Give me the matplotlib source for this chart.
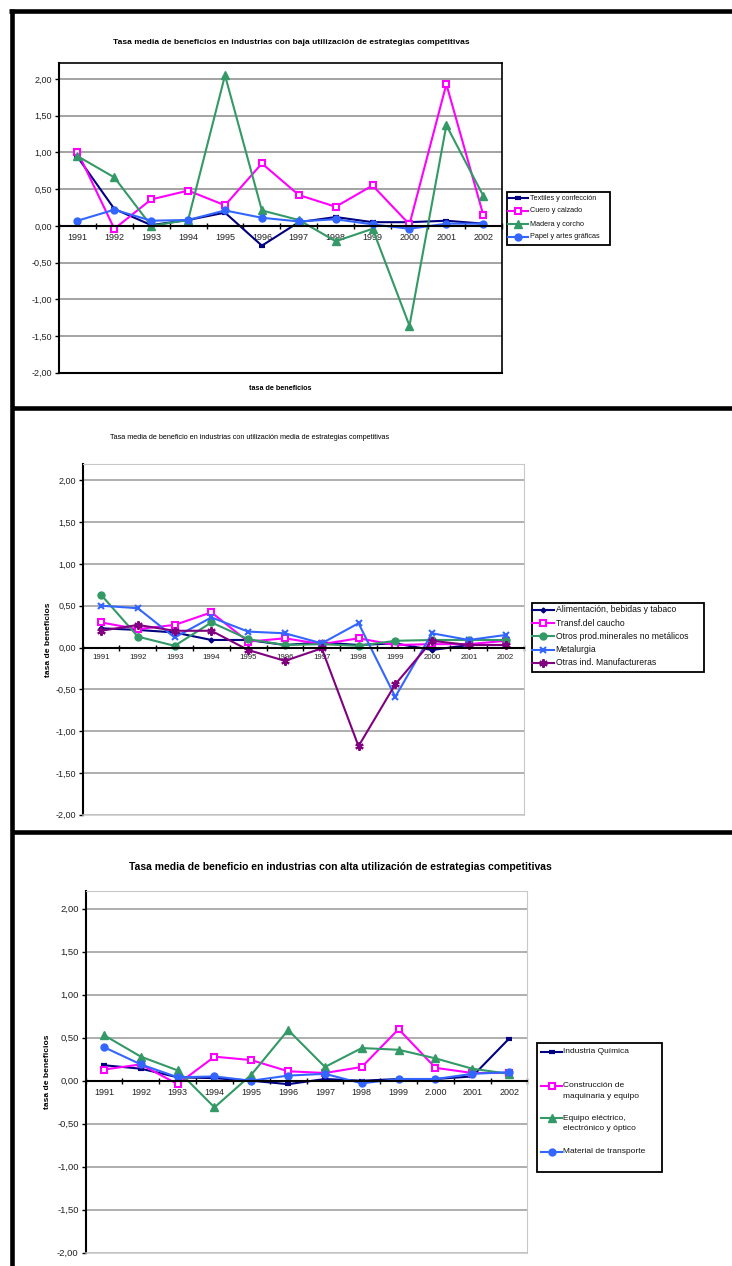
import numpy as np
import matplotlib
matplotlib.use("Agg")
import matplotlib.pyplot as plt
from matplotlib.patches import Rectangle
from matplotlib.ticker import FuncFormatter

plt.rcParams['font.family'] = ['Liberation Sans', 'DejaVu Sans']

W, H = 732, 1266

years = ['1991', '1992', '1993', '1994', '1995', '1996',
         '1997', '1998', '1999', '2000', '2001', '2002']
years_alta = ['1991', '1992', '1993', '1994', '1995', '1996',
              '1997', '1998', '1999', '2.000', '2001', '2002']

# baja utilización
textiles = [0.94, 0.23, 0.01, 0.08, 0.18, -0.27, 0.05, 0.12, 0.05, 0.05, 0.07, 0.03]
cuero = [1.01, -0.04, 0.36, 0.48, 0.28, 0.85, 0.42, 0.26, 0.55, 0.02, 1.93, 0.15]
madera = [0.95, 0.66, 0.00, 0.08, 2.05, 0.21, 0.08, -0.21, -0.04, -1.36, 1.37, 0.41]
papel = [0.07, 0.22, 0.07, 0.08, 0.21, 0.11, 0.06, 0.09, 0.02, -0.04, 0.03, 0.03]

# utilización media
alimentacion = [0.23, 0.21, 0.18, 0.09, 0.09, 0.03, 0.06, 0.03, 0.05, -0.03, 0.03, 0.03]
caucho = [0.30, 0.22, 0.27, 0.42, 0.07, 0.11, 0.04, 0.11, 0.03, 0.04, 0.04, 0.08]
minerales = [0.63, 0.13, 0.02, 0.30, 0.10, 0.03, 0.04, 0.02, 0.08, 0.09, 0.09, 0.09]
metalurgia = [0.50, 0.47, 0.12, 0.36, 0.19, 0.17, 0.05, 0.29, -0.59, 0.17, 0.09, 0.15]
otras = [0.20, 0.27, 0.20, 0.20, -0.03, -0.16, -0.01, -1.18, -0.44, 0.08, 0.03, 0.03]

# alta utilización
quimica = [0.18, 0.14, 0.04, 0.03, 0.00, -0.04, 0.02, 0.00, 0.02, 0.02, 0.05, 0.49]
maquinaria = [0.13, 0.19, -0.04, 0.28, 0.24, 0.11, 0.09, 0.16, 0.60, 0.15, 0.09, 0.09]
electrico = [0.53, 0.28, 0.12, -0.31, 0.07, 0.59, 0.16, 0.38, 0.36, 0.26, 0.14, 0.08]
transporte = [0.39, 0.19, 0.04, 0.05, 0.00, 0.06, 0.08, -0.03, 0.02, 0.02, 0.08, 0.10]

NAVY, MAGENTA, GREEN, BLUE, PURPLE = '#000080', '#ff00ff', '#339966', '#3366ff', '#800080'

st_dash = dict(color=NAVY, marker='_', ms=5, mew=3)
st_square = dict(color=MAGENTA, marker='s', ms=5, mfc='white', mew=1.5)
st_tri = dict(color=GREEN, marker='^', ms=5.5)
st_circ = dict(color=BLUE, marker='o', ms=5)
st_diam = dict(color=NAVY, marker='D', ms=2.5)
st_gcirc = dict(color=GREEN, marker='o', ms=5)
st_x = dict(color=BLUE, marker='x', ms=5, mew=1.5)
st_star = dict(color=PURPLE, marker=(6, 2, 0), ms=6, mew=1.5)

fig = plt.figure(figsize=(W / 100, H / 100), dpi=100)


def px_axes(l, t, r, b):
    return fig.add_axes([l / W, 1 - b / H, (r - l) / W, (b - t) / H])


def comma(v, pos):
    return f'{v:.2f}'.replace('.', ',')


def setup(ax, ymax, labels, boxed, yfs, xfs, grid_col):
    ax.set_xlim(-0.5, 11.5)
    ax.set_ylim(-2, ymax)
    ax.set_yticks(np.arange(-2, 2.01, 0.5))
    ax.yaxis.set_major_formatter(FuncFormatter(comma))
    ax.grid(axis='y', color=grid_col, lw=1.1)
    ax.set_axisbelow(True)
    ax.set_xticks(range(12))
    ax.set_xticklabels(labels)
    ax.set_xticks(np.arange(-0.5, 12, 1), minor=True)
    ax.tick_params(axis='x', which='major', length=0, pad=5, labelsize=xfs, labelcolor='#222222')
    ax.tick_params(axis='x', which='minor', length=4, width=1, direction='inout')
    ax.tick_params(axis='y', length=3, width=1, pad=2, labelsize=yfs, labelcolor='#222222')
    ax.spines['bottom'].set_position(('data', 0))
    ax.spines['bottom'].set_linewidth(1.5)
    ax.spines['left'].set_linewidth(1.5)
    edge = 'black' if boxed else '#c8c8c8'
    elw = 1.2 if boxed else 0.8
    for s in ('top', 'right'):
        ax.spines[s].set_color(edge)
        ax.spines[s].set_linewidth(elw)
    ax.axhline(-2, color=edge, lw=elw + 0.3, clip_on=False, zorder=3)


# panel 1
ax1 = px_axes(59, 63, 501.7, 372.7)
setup(ax1, 2.218, years, True, 6.5, 6.5, '#8a8a8a')
for vals, st in ((textiles, st_dash), (cuero, st_square), (madera, st_tri), (papel, st_circ)):
    ax1.plot(range(12), vals, lw=1.5, clip_on=False, **st)

# panel 2
ax2 = px_axes(82.7, 464, 524, 814.7)
setup(ax2, 2.195, years, False, 6.5, 5.7, '#999999')
for vals, st in ((alimentacion, st_diam), (caucho, st_square), (minerales, st_gcirc),
                 (metalurgia, st_x), (otras, st_star)):
    ax2.plot(range(12), vals, lw=1.5, clip_on=False, **st)
ax2.set_ylabel('tasa de beneficios', fontsize=6.1, fontweight='bold', labelpad=2)

# panel 3
ax3 = px_axes(85.6, 890.7, 527.5, 1252.7)
setup(ax3, 2.21, years_alta, False, 6.8, 6.5, '#999999')
for vals, st in ((quimica, st_dash), (maquinaria, st_square), (electrico, st_tri),
                 (transporte, st_circ)):
    ax3.plot(range(12), vals, lw=1.5, clip_on=False, **st)
ax3.set_ylabel('tasa de beneficios', fontsize=6.1, fontweight='bold', labelpad=4)

# overlay in pixel coordinates: frames, titles, legends
over = fig.add_axes([0, 0, 1, 1])
over.set_xlim(0, W)
over.set_ylim(H, 0)
over.axis('off')
over.patch.set_visible(False)

flw = 3.3
over.plot([8.5, W], [10.5, 10.5], color='black', lw=flw, solid_capstyle='butt')
over.plot([11.7, 11.7], [8.5, H], color='black', lw=flw, solid_capstyle='butt')
over.plot([11.7, W], [407.5, 407.5], color='black', lw=flw, solid_capstyle='butt')
over.plot([11.7, W], [832, 832], color='black', lw=flw, solid_capstyle='butt')

over.text(291, 42, 'Tasa media de beneficios en industrias con baja utilización de estrategias competitivas',
          ha='center', va='center', fontsize=6.1, fontweight='bold')
over.text(280, 388, 'tasa de beneficios', ha='center', va='center', fontsize=5.2, fontweight='bold')
over.text(250, 437.7, 'Tasa media de beneficio en industrias con utilización media de estrategias competitivas',
          ha='center', va='center', fontsize=5.2)
over.text(340, 866.7, 'Tasa media de beneficio en industrias con alta utilización de estrategias competitivas',
          ha='center', va='center', fontsize=7.5, fontweight='bold')


def legend_box(box, entries, rows, hx, tx, fs, line_gap=0):
    x0, y0, x1, y1 = box
    over.add_patch(Rectangle((x0, y0), x1 - x0, y1 - y0, fill=False, ec='black', lw=1.3))
    for (label, st), y in zip(entries, rows):
        over.plot([hx[0], (hx[0] + hx[1]) / 2, hx[1]], [y, y, y], lw=1.5, markevery=[1], **st)
        for k, line in enumerate(label.split('\n')):
            over.text(tx, y + k * line_gap, line, ha='left', va='center', fontsize=fs, color='#111111')


legend_box((506.7, 191.7, 610, 245),
           [('Textiles y confección', st_dash), ('Cuero y calzado', st_square),
            ('Madera y corcho', st_tri), ('Papel y artes gráficas', st_circ)],
           [198, 211, 224, 237], (507.5, 528.3), 529.5, 5.2)

legend_box((531.7, 602.7, 704, 671.7),
           [('Alimentación, bebidas y tabaco', st_diam), ('Transf.del caucho', st_square),
            ('Otros prod.minerales no metálicos', st_gcirc), ('Metalurgia', st_x),
            ('Otras ind. Manufactureras', st_star)],
           [610, 623.2, 636.4, 649.6, 662.8], (532.3, 554.3), 555.5, 6.2)

legend_box((536.7, 1042.7, 661.7, 1172),
           [('Industria Química', st_dash), ('Construcción de\nmaquinaria y equipo', st_square),
            ('Equipo eléctrico,\nelectrónico y óptico', st_tri), ('Material de transporte', st_circ)],
           [1051.7, 1085.7, 1118, 1151.7], (540.7, 562.3), 563.3, 6.0, line_gap=11)

fig.savefig('out.png', dpi=100)
